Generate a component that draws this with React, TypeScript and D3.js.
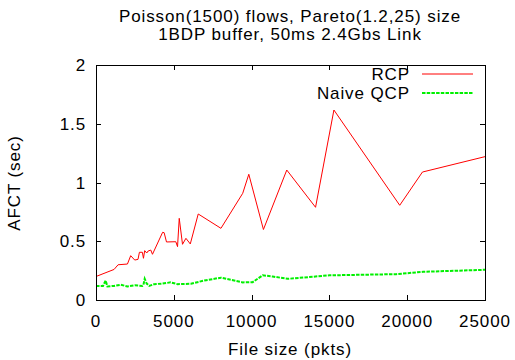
import React, { useEffect, useRef } from "react";
import * as d3 from "d3";

const titleLines = ["Poisson(1500) flows, Pareto(1.2,25) size", "1BDP buffer, 50ms 2.4Gbs Link"];
const xTicks = [0, 5000, 10000, 15000, 20000, 25000];
const yTicks = [0, 0.5, 1, 1.5, 2];
const yTickLabels = ["0", "0.5", "1", "1.5", "2"];

const rcpSize = [0, 1160, 1420, 2020, 2230, 2490, 2700, 2790, 2980, 3050, 3130, 3260, 3350, 3520, 3630, 4280, 4380, 4530, 5130, 5240, 5350, 5560, 5780, 6060, 6570, 8030, 9430, 9820, 10760, 12260, 14110, 15290, 19520, 20980, 25000];
const rcpAfct = [0.2, 0.26, 0.3, 0.306, 0.377, 0.34, 0.346, 0.406, 0.406, 0.355, 0.42, 0.4, 0.417, 0.425, 0.389, 0.576, 0.573, 0.494, 0.496, 0.454, 0.695, 0.474, 0.525, 0.477, 0.732, 0.61, 0.908, 1.07, 0.6, 1.106, 0.789, 1.617, 0.806, 1.089, 1.22];

const qcpSize = [0, 450, 620, 730, 1160, 1590, 2020, 2490, 2980, 3050, 3130, 3260, 3420, 3740, 4280, 4800, 5240, 6100, 6960, 8030, 9430, 10070, 10710, 11350, 12320, 15000, 19300, 21020, 25000];
const qcpAfct = [0.12, 0.12, 0.166, 0.115, 0.12, 0.13, 0.115, 0.125, 0.12, 0.13, 0.18, 0.14, 0.12, 0.135, 0.14, 0.15, 0.135, 0.138, 0.166, 0.19, 0.15, 0.152, 0.21, 0.2, 0.18, 0.21, 0.22, 0.24, 0.257];

const seriesNames = ["RCP", "Naive QCP"];

export default function App() {
  const ref = useRef<SVGSVGElement>(null);
  useEffect(() => {
    const svg = d3.select(ref.current);
    svg.selectAll("*").remove();
    const W = 515, H = 360;
    const L = 96, R = 485, T = 65, B = 300;
    const font = "'Liberation Sans', Arial, sans-serif";
    const fs = 17;
    const x = d3.scaleLinear().domain([0, 25000]).range([L, R]);
    const y = d3.scaleLinear().domain([0, 2]).range([B, T]);

    svg.append("rect").attr("width", W).attr("height", H).attr("fill", "white");

    // title
    titleLines.forEach((t, i) => {
      svg.append("text").attr("x", 290).attr("y", 22 + i * 18)
        .attr("text-anchor", "middle").attr("font-family", font).attr("font-size", fs)
        .attr("letter-spacing", 0.9).text(t);
    });

    // ticks
    const g = svg.append("g").attr("stroke", "black").attr("stroke-width", 1);
    xTicks.forEach((v) => {
      const px = Math.round(x(v)) + 0.5;
      g.append("line").attr("x1", px).attr("x2", px).attr("y1", B).attr("y2", B - 5);
      g.append("line").attr("x1", px).attr("x2", px).attr("y1", T).attr("y2", T + 5);
      svg.append("text").attr("x", x(v)).attr("y", 327).attr("text-anchor", "middle")
        .attr("font-family", font).attr("font-size", fs).attr("letter-spacing", 0.9).text(String(v));
    });
    yTicks.forEach((v, i) => {
      const py = Math.round(y(v)) + 0.5;
      g.append("line").attr("x1", L).attr("x2", L + 5).attr("y1", py).attr("y2", py);
      g.append("line").attr("x1", R).attr("x2", R - 5).attr("y1", py).attr("y2", py);
      svg.append("text").attr("x", 86).attr("y", y(v) + 6).attr("text-anchor", "end")
        .attr("font-family", font).attr("font-size", fs).attr("letter-spacing", 0.9).text(yTickLabels[i]);
    });

    // axis labels
    svg.append("text").attr("x", 290).attr("y", 355).attr("text-anchor", "middle")
      .attr("font-family", font).attr("font-size", fs).attr("letter-spacing", 0.9).text("File size (pkts)");
    svg.append("text").attr("transform", "translate(20,183) rotate(-90)").attr("text-anchor", "middle")
      .attr("font-family", font).attr("font-size", fs).attr("letter-spacing", 0.9).text("AFCT (sec)");

    const line = d3.line<[number, number]>().x((d) => x(d[0])).y((d) => y(d[1]));
    const rcp = rcpSize.map((s, i) => [s, rcpAfct[i]] as [number, number]);
    const qcp = qcpSize.map((s, i) => [s, qcpAfct[i]] as [number, number]);

    const green = "#00f000";
    svg.append("path").attr("d", line(qcp)).attr("fill", "none").attr("stroke", green)
      .attr("stroke-width", 2).attr("stroke-dasharray", "3.5,1.2");
    svg.append("path").attr("d", line(rcp)).attr("fill", "none").attr("stroke", "#ff0000")
      .attr("stroke-width", 1);

    // border
    svg.append("rect").attr("x", L + 0.5).attr("y", T + 0.5).attr("width", R - L).attr("height", B - T)
      .attr("fill", "none").attr("stroke", "black").attr("stroke-width", 1);

    // legend
    const legendY = [74, 93];
    const colors = ["#ff0000", green];
    seriesNames.forEach((n, i) => {
      svg.append("text").attr("x", 410).attr("y", legendY[i] + 6).attr("text-anchor", "end")
        .attr("font-family", font).attr("font-size", fs).attr("letter-spacing", 0.9).text(n);
      svg.append("line").attr("x1", 422).attr("x2", 473).attr("y1", legendY[i]).attr("y2", legendY[i])
        .attr("stroke", colors[i]).attr("stroke-width", i === 0 ? 1 : 2)
        .attr("stroke-dasharray", i === 0 ? null : "3.5,1.2");
    });
  }, []);
  return (
    <svg ref={ref} width={515} height={360} style={{ position: "absolute", left: 0, top: 0 }} />
  );
}
